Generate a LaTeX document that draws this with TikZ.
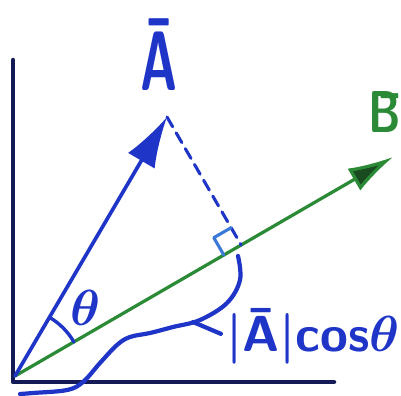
\documentclass[tikz,border=0pt]{standalone}
\usepackage{amsmath,amssymb,bm}
\usepackage{fix-cm}
\usepackage{tikz}
\usetikzlibrary{arrows.meta,calc}
\definecolor{penblue}{HTML}{1F35C8}
\definecolor{pengreen}{HTML}{2A8A35}
\definecolor{darkgreen}{HTML}{1A4A20}
\definecolor{pennavy}{HTML}{141A55}
\definecolor{penlight}{HTML}{3A78D8}

\begin{document}
\begin{tikzpicture}[x=0.025cm, y=-0.025cm, line cap=round, line join=round]
    \useasboundingbox (0,0) rectangle (401,395);
    % Points
    \coordinate (O) at (15,376);
    \coordinate (ytop) at (13,60);
    \coordinate (corner) at (13,382);
    \coordinate (xend) at (334,382);
    \coordinate (Atip) at (167,117);
    \coordinate (Btip) at (393,157);
    \coordinate (F) at ($(O)!(Atip)!(Btip)$);

    % Axes
    \draw[pennavy, line width=3.2pt] (ytop) -- (corner) -- (xend);

    % Vectors
    \draw[pengreen, line width=2.3pt, -{Latex[length=32pt, width=18pt, fill=darkgreen]}] (O) -- (Btip);
    \draw[penblue, line width=2.6pt, -{Latex[length=36pt, width=22pt]}] (O) -- (Atip);
    \draw[penblue, line width=2.2pt, dash pattern=on 8pt off 5pt] (Atip) -- (F);

    % Right angle mark
    \coordinate (r1) at ($(F)!0.5cm!(O)$);
    \coordinate (r3) at ($(F)!0.5cm!(Atip)$);
    \coordinate (r2) at ($(r1)+(r3)-(F)$);
    \draw[penlight, line width=2.2pt] (r1) -- (r2) -- (r3);

    % Angle
    \draw[penblue, line width=2.4pt] ($(O)!1.7cm!(Btip)$) arc[start angle=30, end angle=59.5, radius=1.7cm];
    \node[penblue, font=\fontsize{36}{36}\selectfont] (theta) at (86,308) {$\bm{\theta}$};

    % Labels
    \node[penblue, font=\fontsize{60}{60}\sffamily\bfseries\selectfont, xscale=0.6] (labA) at (159,55) {\=A};
    \node[pengreen, font=\fontsize{42}{42}\sffamily\bfseries\selectfont, xscale=0.75] (labB) at (385,112) {\=B};
    \node[penblue, font=\fontsize{36}{36}\sffamily\bfseries\selectfont, anchor=west, inner sep=0pt] (labProj) at (226,336) {|\=A|cos$\bm{\theta}$};

    % Brace
    \draw[penblue, line width=3pt] plot[smooth, tension=0.6] coordinates {(238,256) (240,280) (227,303) (200,320) (173,327) (150,333) (130,337) (117,345) (100,363) (83,382) (67,390) (33,393) (20,394)};
    \coordinate (hook) at (193,322);
    \draw[penblue, line width=3pt, shorten >=4pt] (hook) -- (labProj.west);
\end{tikzpicture}
\end{document}
